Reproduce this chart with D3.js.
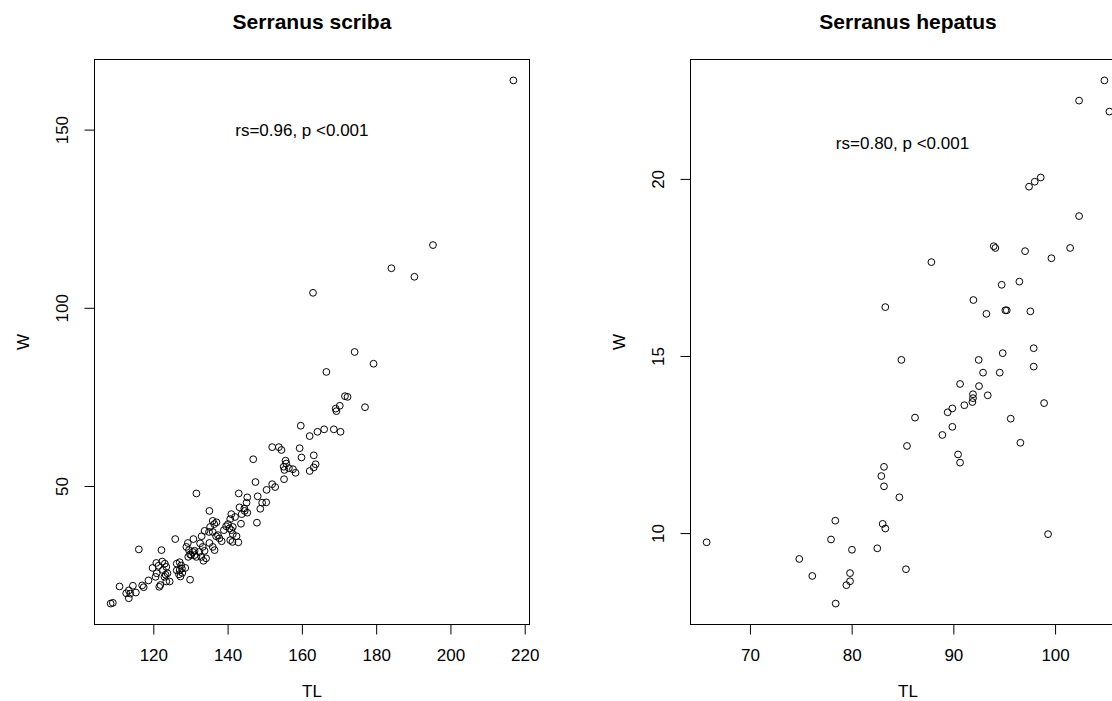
<!DOCTYPE html>
<html>
<head>
<meta charset="utf-8">
<script src="https://cdn.jsdelivr.net/npm/d3@7"></script>
<style>
  html, body { margin: 0; padding: 0; background: #fff; overflow: hidden; }
  svg { display: block; }
  text { font-family: "Liberation Sans", Arial, Helvetica, sans-serif; fill: #000; }
</style>
</head>
<body>
<script>
// Serranus scriba: total length (TL) and weight (W)
const scribaTL = [108.5,109.1,110.9,112.7,113.4,113.8,113.4,114.5,115.3,116.1,117.0,117.4,118.7,119.8,120.6,120.9,120.8,121.4,121.6,121.9,
  122.2,122.4,123.1,123.5,123.3,123.8,123.0,123.5,124.4,122.6,125.9,126.3,127.1,127.5,127.1,127.7,126.3,126.9,127.3,127.8,
  128.6,129.9,129.3,128.9,129.6,129.9,130.8,131.1,130.6,130.2,131.1,129.4,131.6,131.6,132.6,132.9,132.4,133.3,133.8,133.5,
  133.0,133.8,135.0,135.3,136.0,136.4,136.0,136.9,137.8,135.1,136.0,136.5,135.1,134.2,137.4,139.0,139.6,140.5,138.4,137.0,
  140.1,140.7,141.0,142.0,141.4,141.0,141.4,142.4,142.9,141.3,140.7,143.2,143.8,144.5,144.6,145.3,143.6,143.0,145.3,145.1,
  147.9,148.1,149.3,148.8,150.4,146.9,147.5,150.5,152.0,152.8,152.0,153.8,154.5,159.4,159.9,163.2,163.7,163.2,162.1,155.6,
  155.8,155.1,155.3,156.5,157.6,158.3,155.2,159.7,162.1,164.2,166.0,168.6,170.4,170.2,169.1,169.3,177.0,171.6,172.3,166.6,
  179.3,174.2,163.0,184.1,190.3,195.3,216.95];
const scribaW = [17.0,17.2,21.8,19.9,20.7,19.8,18.5,22.0,20.1,32.2,22.1,21.6,23.5,27.0,24.5,25.5,28.4,27.6,21.7,22.2,
  32.0,28.8,28.2,27.3,25.1,25.5,24.5,23.2,23.2,26.4,35.1,28.2,28.6,27.7,26.4,26.8,26.3,25.2,24.6,25.6,
  27.0,23.7,34.0,32.9,32.0,30.8,35.1,31.8,31.5,30.6,30.6,30.1,30.1,47.9,33.9,30.1,31.5,32.9,31.8,29.0,
  35.9,37.4,37.1,38.5,40.2,39.3,37.1,35.9,35.3,34.0,32.9,32.0,43.0,29.7,36.2,37.6,38.7,38.1,34.5,39.8,
  39.3,40.7,42.1,41.3,38.5,37.6,36.5,35.9,34.2,34.3,34.8,44.0,42.1,43.7,43.0,42.5,39.4,47.9,46.8,45.3,
  39.7,47.1,45.3,43.6,45.4,57.5,51.1,48.9,50.5,49.7,60.9,60.9,60.1,60.6,58.0,58.6,56.1,55.2,54.2,57.1,
  56.3,55.4,54.5,55.0,54.7,53.7,51.9,66.9,64.0,65.2,65.9,65.9,65.2,72.5,71.7,71.0,72.1,75.2,75.0,82.0,
  84.3,87.6,104.2,111.1,108.7,117.6,163.8];

// Serranus hepatus: total length (TL) and weight (W)
const hepatusTL = [65.74,74.85,76.13,78.43,77.97,78.39,80.03,79.84,79.84,79.48,82.52,83.05,83.31,85.34,82.92,83.18,83.18,84.69,85.44,86.23,
  84.89,83.31,87.84,88.92,89.90,89.44,89.90,90.46,90.66,90.66,91.08,91.87,91.93,91.93,91.97,92.49,92.52,92.92,93.38,93.25,
  93.97,94.13,94.56,94.85,94.75,95.11,95.25,95.64,96.49,96.59,97.05,97.57,97.44,98.00,98.59,97.90,97.90,98.92,99.31,99.64,
  101.48,102.36,102.36,104.85,105.34];
const hepatusW = [9.74,9.27,8.79,8.01,9.82,10.35,9.53,8.87,8.64,8.53,9.57,10.26,10.13,8.98,11.61,11.87,11.32,11.01,12.46,13.26,
  14.89,16.38,17.65,12.77,13.00,13.41,13.52,12.22,11.99,14.21,13.61,13.70,13.81,13.92,16.58,14.89,14.15,14.53,13.89,16.19,
  18.10,18.05,14.53,15.08,17.01,16.29,16.29,13.23,17.10,12.55,17.96,16.26,19.78,19.92,20.04,15.22,14.70,13.67,9.97,17.76,
  18.05,18.95,22.21,22.78,21.90];

// Axis ticks
const scribaTicksX = [120, 140, 160, 180, 200, 220];
const scribaTicksY = [50, 100, 150];
const hepatusTicksX = [70, 80, 90, 100];
const hepatusTicksY = [10, 15, 20];

// Panel titles, axis titles and correlation notes
const titles = ["Serranus scriba", "Serranus hepatus"];
const xLabel = "TL";
const yLabel = "W";
const notes = ["rs=0.96, p <0.001", "rs=0.80, p <0.001"];
const noteAtTL = [160, 85];
const noteAtW = [150, 21];

// Layout: two side-by-side figures, the second one runs past the right edge
const width = 1192, height = 701;
const figureWidth = 596;
const box = { left: 94.5, top: 59.5, width: 435, height: 565 };

const svg = d3.select("body").append("svg")
  .attr("width", width)
  .attr("height", height);

// Axis limits extended by 4% on both sides of the data range
function paddedExtent(values) {
  const [lo, hi] = d3.extent(values);
  const pad = (hi - lo) * 0.04;
  return [lo - pad, hi + pad];
}

function drawPanel(i, tl, w, ticksX, ticksY) {
  const g = svg.append("g").attr("transform", `translate(${i * figureWidth},0)`);
  const x0 = box.left, x1 = box.left + box.width;
  const y0 = box.top + box.height, y1 = box.top;

  const x = d3.scaleLinear().domain(paddedExtent(tl)).range([x0, x1]);
  const y = d3.scaleLinear().domain(paddedExtent(w)).range([y0, y1]);

  // x axis
  const gx = g.append("g")
    .attr("transform", `translate(0,${y0})`)
    .call(d3.axisBottom(x).tickValues(ticksX).tickSize(10).tickFormat(d3.format("d")));
  gx.select(".domain").remove();
  gx.selectAll(".tick line").attr("stroke", "#000");
  gx.selectAll(".tick text")
    .attr("y", 36.7).attr("dy", null)
    .attr("font-size", 17)
    .attr("font-family", null);

  // y axis, labels parallel to the axis
  const gy = g.append("g")
    .attr("transform", `translate(${x0},0)`)
    .call(d3.axisLeft(y).tickValues(ticksY).tickSize(10).tickFormat(d3.format("d")));
  gy.select(".domain").remove();
  gy.selectAll(".tick line").attr("stroke", "#000");
  gy.selectAll(".tick text")
    .attr("transform", "rotate(-90)")
    .attr("x", 0).attr("y", -26.3).attr("dy", null)
    .attr("text-anchor", "middle")
    .attr("font-size", 17)
    .attr("font-family", null);

  // plot frame
  g.append("rect")
    .attr("x", x0).attr("y", y1)
    .attr("width", box.width).attr("height", box.height)
    .attr("fill", "none").attr("stroke", "#000").attr("stroke-width", 1);

  // points
  g.append("g").selectAll("circle")
    .data(d3.range(tl.length))
    .join("circle")
    .attr("cx", k => x(tl[k]))
    .attr("cy", k => y(w[k]))
    .attr("r", 3.4)
    .attr("fill", "none")
    .attr("stroke", "#000")
    .attr("stroke-width", 1);

  // correlation note
  g.append("text")
    .attr("x", x(noteAtTL[i])).attr("y", y(noteAtW[i]))
    .attr("dy", "0.35em")
    .attr("text-anchor", "middle")
    .attr("font-size", 17)
    .text(notes[i]);

  // title
  g.append("text")
    .attr("x", (x0 + x1) / 2).attr("y", 29)
    .attr("text-anchor", "middle")
    .attr("font-size", 21)
    .attr("font-weight", "bold")
    .text(titles[i]);

  // axis titles
  g.append("text")
    .attr("x", (x0 + x1) / 2).attr("y", 696.5)
    .attr("text-anchor", "middle")
    .attr("font-size", 17)
    .text(xLabel);

  g.append("text")
    .attr("transform", `translate(${x0 - 66},${(y0 + y1) / 2}) rotate(-90)`)
    .attr("text-anchor", "middle")
    .attr("font-size", 17)
    .text(yLabel);
}

drawPanel(0, scribaTL, scribaW, scribaTicksX, scribaTicksY);
drawPanel(1, hepatusTL, hepatusW, hepatusTicksX, hepatusTicksY);
</script>
</body>
</html>
